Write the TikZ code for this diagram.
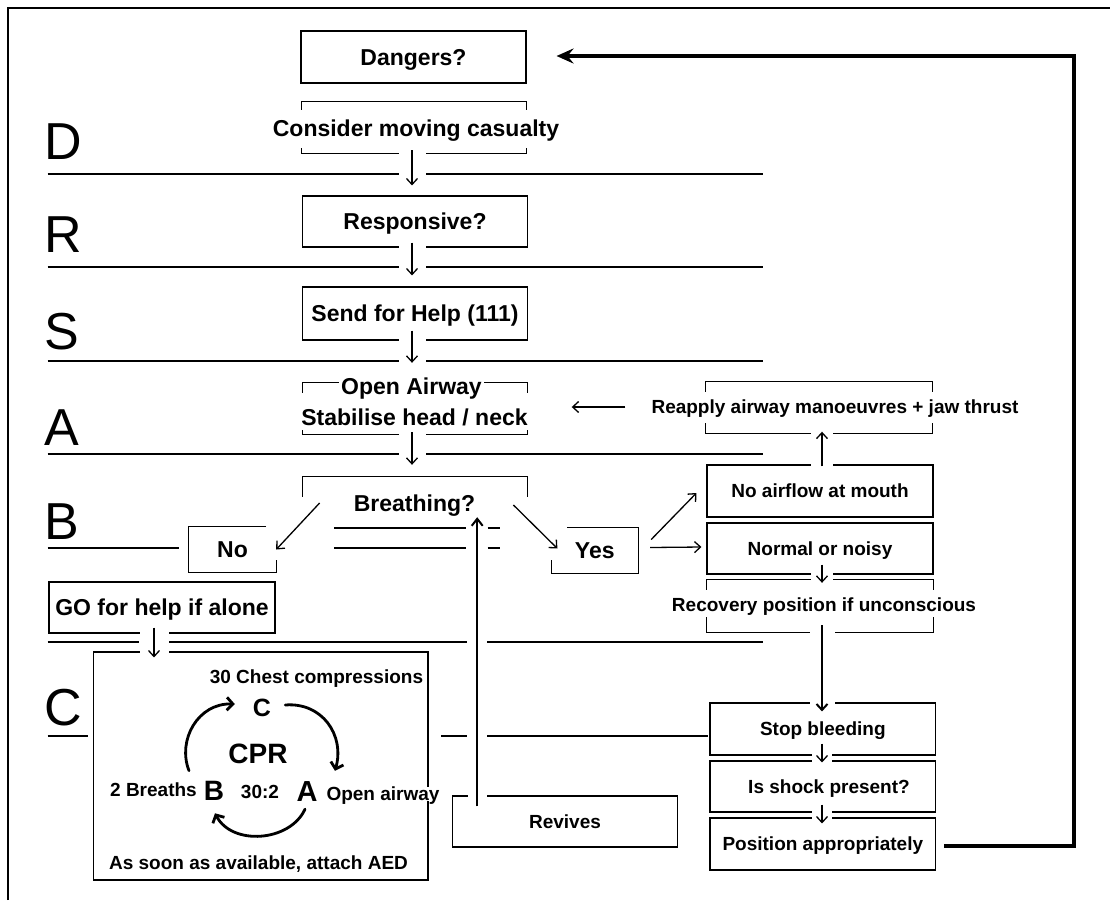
\documentclass[tikz,border=0pt]{standalone}
\usepackage{fontspec}
\setmainfont{Liberation Sans}
\usetikzlibrary{arrows.meta,calc}
\tikzset{
  wf/.style={font=\fontsize{23pt}{27pt}\selectfont\bfseries, text height=16.5pt, text depth=0pt, inner sep=0pt},
  nf/.style={font=\fontsize{19pt}{22pt}\selectfont\bfseries, text height=13.7pt, text depth=0pt, inner sep=0pt},
  big/.style={font=\fontsize{#1}{#1}\selectfont\bfseries, inner sep=0pt, text height=0.72*#1, text depth=0pt},
  lanelbl/.style={font=\fontsize{52pt}{60pt}\selectfont, inner sep=0pt, anchor=base west},
  box/.style={draw, line width=1.1pt, inner sep=0pt},
  area/.style={inner sep=0pt},
  rule/.style={line width=1.1pt},
  halo/.style={preaction={draw=white, line width=#1, -}},
  varrow/.style={line width=1.3pt, -{Straight Barb[length=6pt,width=11pt]}},
  cyc/.style={line width=2.8pt, line cap=round, -{Straight Barb[length=6pt,width=13pt]}},
  back/.style={line width=4pt, -{Stealth[length=17pt,width=15pt,inset=6pt]}}
}
\newcommand\topbr[2]{\draw[rule] ($(#1.north west)+(0,#2)$) -- (#1.north west) -- (#1.north east) -- ($(#1.north east)+(0,#2)$);}
\newcommand\botbr[2]{\draw[rule] ($(#1.south west)+(0,-#2)$) -- (#1.south west) -- (#1.south east) -- ($(#1.south east)+(0,-#2)$);}
\begin{document}
\begin{tikzpicture}[x=1pt,y=-1pt]
\useasboundingbox (0,0) rectangle (1110,900);
% outer frame
\draw[line width=2pt] (8,900) -- (8,7.5) -- (1110,7.5);

% lane lines
\draw[rule] (47.5,174) -- (763,174);
\draw[rule] (47.5,267) -- (763,267);
\draw[rule] (47.5,361) -- (763,361);
\draw[rule] (47.5,454) -- (763,454);
\draw[rule] (47.5,548) -- (178.6,548);
\draw[rule] (334,548) -- (466,548) (487.5,548) -- (500,548);
\draw[rule] (334,528) -- (466,528) (487.5,528) -- (500,528);
\draw[rule] (47.5,642) -- (139,642) (168,642) -- (467,642) (486,642) -- (763,642);
\draw[rule] (47.5,736) -- (87.5,736) (441,736) -- (467,736) (486,736) -- (708,736);

% lane letters
\node[lanelbl] (lD) at (44,159) {D};
\node[lanelbl] (lR) at (44,252) {R};
\node[lanelbl] (lS) at (44,349) {S};
\node[lanelbl] (lA) at (44,445) {A};
\node[lanelbl] (lB) at (44,539) {B};
\node[lanelbl] (lC) at (44,725) {C};

% left / centre column
\node[box, minimum width=225pt, minimum height=52pt, wf] (dangers) at (413.5,57) {Dangers?};
\node[area, minimum width=225pt, minimum height=51pt] (consider) at (414,127.5) {};
\topbr{consider}{8}
\botbr{consider}{5}
\node[wf] (considert) at (416,128) {Consider moving casualty};
\node[box, minimum width=225pt, minimum height=51pt, wf] (responsive) at (415,221.5) {Responsive?};
\node[box, minimum width=225pt, minimum height=53pt, wf] (send) at (415,313.5) {Send for Help (111)};
\node[area, minimum width=225pt, minimum height=51pt] (airway) at (415,408.5) {};
\topbr{airway}{10}
\botbr{airway}{4}
\node[wf, fill=white, inner xsep=2pt] (openair) at (411.5,386) {Open Airway};
\node[wf] (stab) at (414.5,417) {Stabilise head / neck};
\node[area, minimum width=225pt, minimum height=40pt] (breath) at (415,497) {};
\topbr{breath}{20}
\node[wf] (breatht) at (414.5,503) {Breathing?};

\node[area, minimum width=87pt, minimum height=45pt, wf] (no) at (232.5,549.5) {No};
\draw[rule] ($(no.north east)+(-10,0)$) -- (no.north west) -- (no.south west) -- (no.south east) -- ($(no.north east)+(0,33)$);
\node[area, minimum width=86.4pt, minimum height=45pt, wf] (yes) at (594.8,550.5) {Yes};
\draw[rule] ($(yes.north west)+(16,0)$) -- (yes.north east) -- (yes.south east) -- (yes.south west) -- ($(yes.north west)+(0,32)$);

\node[box, minimum width=226pt, minimum height=51pt, wf] (go) at (162,607.5) {GO for help if alone};

% CPR box
\node[box, minimum width=334.4pt, minimum height=228pt] (cpr) at (260.8,766) {};
\node[nf] (chest) at (316.5,677) {30 Chest compressions};
\node[big=25pt] (cC) at (262,707) {C};
\node[big=28pt] (cprl) at (258,753) {CPR};
\node[nf] (breaths) at (153.5,790) {2 Breaths};
\node[big=28pt] (cB) at (214,790) {B};
\node[nf] (ratio) at (260,792) {30:2};
\node[big=29pt] (cA) at (307,791.5) {A};
\node[nf, fill=white, inner xsep=2pt] (opena) at (383,794) {Open airway};
\node[nf] (aed) at (258.5,863) {As soon as available, attach AED};
\draw[cyc] ($(cB.north)+(-25,-9)$) .. controls (177,740) and (198,703) .. ($(cC.west)+(-18,-3)$);
\draw[cyc] ($(cC.east)+(14,-2)$) .. controls (322,702) and (345,735) .. ($(cA.north)+(28,-10)$);
\draw[cyc] ($(cA.south)+(-2,7)$) .. controls (290,842) and (232,846) .. ($(cB.south)+(1,13)$);

\node[box, minimum width=224.5pt, minimum height=51pt, nf] (revives) at (565,821.5) {Revives};

% right column
\node[area, minimum width=226pt, minimum height=51pt] (reapply) at (819,407.5) {};
\topbr{reapply}{10}
\botbr{reapply}{10}
\node[nf] (reapplyt) at (835,407) {Reapply airway manoeuvres + jaw thrust};
\node[box, minimum width=226pt, minimum height=52pt, nf] (noair) at (820,491) {No airflow at mouth};
\node[box, minimum width=226pt, minimum height=51pt, nf] (normal) at (820,548.5) {Normal or noisy};
\node[area, minimum width=226pt, minimum height=52pt] (recovery) at (820,606) {};
\topbr{recovery}{10}
\botbr{recovery}{15}
\node[nf] (recoveryt) at (824,605) {Recovery position if unconscious};
\node[box, minimum width=225.6pt, minimum height=52pt, nf] (stop) at (822.8,729) {Stop bleeding};
\node[box, minimum width=225.6pt, minimum height=51pt] (shock) at (822.8,786.5) {};
\node[nf] (shockt) at (829,787) {Is shock present?};
\node[box, minimum width=225.6pt, minimum height=52pt, nf] (position) at (822.8,844) {Position appropriately};

% column x coordinates
\coordinate (colL) at (412,0);
\coordinate (colR) at (822,0);

% centre column arrows
\draw[varrow, halo=27pt] ($(colL |- consider.south)+(0,-3)$) -- ($(colL |- responsive.north)+(0,-10)$);
\draw[varrow, halo=27pt] ($(colL |- responsive.south)+(0,-5)$) -- ($(colL |- send.north)+(0,-11)$);
\draw[varrow, halo=27pt] ($(colL |- send.south)+(0,-10)$) -- ($(colL |- airway.north)+(0,-20)$);
\draw[varrow, halo=27pt] ($(colL |- airway.south)+(0,-2)$) -- ($(colL |- breath.north)+(0,-12)$);

% breathing branches
\draw[varrow] ($(breatht.west)+(-34,0)$) -- (no.east);
\draw[varrow] ($(breatht.east)+(38,2)$) -- ($(yes.west)+(6,-2)$);
\draw[varrow] ($(yes.east)+(13,-11)$) -- ($(noair.west)+(-10,2)$);
\draw[varrow] ($(yes.east)+(12,-3)$) -- ($(normal.west)+(-5,-1.5)$);
\draw[varrow] ($(reapplyt.west)+(-26,0)$) -- ($(airway.east)+(44,-1.5)$);

% right column arrows
\draw[varrow, halo=22pt] ($(colR |- noair.north)+(0,2)$) -- ($(colR |- reapply.south)+(0,-1.5)$);
\draw[varrow, halo=22pt] ($(colR |- normal.south)+(0,-10)$) -- ($(colR |- recovery.north)+(0,3)$);
\draw[varrow, line width=2pt, halo=25pt] ($(colR |- recovery.south)+(0,-7)$) -- ($(colR |- stop.north)+(0,9)$);
\draw[varrow, halo=20pt] ($(colR |- stop.south)+(0,-12)$) -- ($(colR |- shock.north)+(0,2)$);
\draw[varrow, halo=20pt] ($(colR |- shock.south)+(0,-8)$) -- ($(colR |- position.north)+(0,6)$);

% GO -> CPR
\coordinate (goarr) at ($(go.south)+(-8,0)$);
\draw[varrow, halo=29pt] ($(goarr)+(0,-6)$) -- ($(goarr |- cpr.north)+(0,6)$);

% Revives -> Breathing
\coordinate (revx) at ($(revives.north west)+(25,0)$);
\draw[white, line width=19pt] ($(revx)+(0,4)$) -- ($(revx |- breath.south)+(0,3)$);
\draw[line width=2pt, -{Straight Barb[length=7pt,width=11pt]}] ($(revx)+(0,11)$) -- (revx |- breath.south);

% return to Dangers
\draw[back] ($(position.east)+(8,2)$) -| ($(dangers.east)+(547.5,-1)$) -- ($(dangers.east)+(30,-1)$);
\end{tikzpicture}
\end{document}
